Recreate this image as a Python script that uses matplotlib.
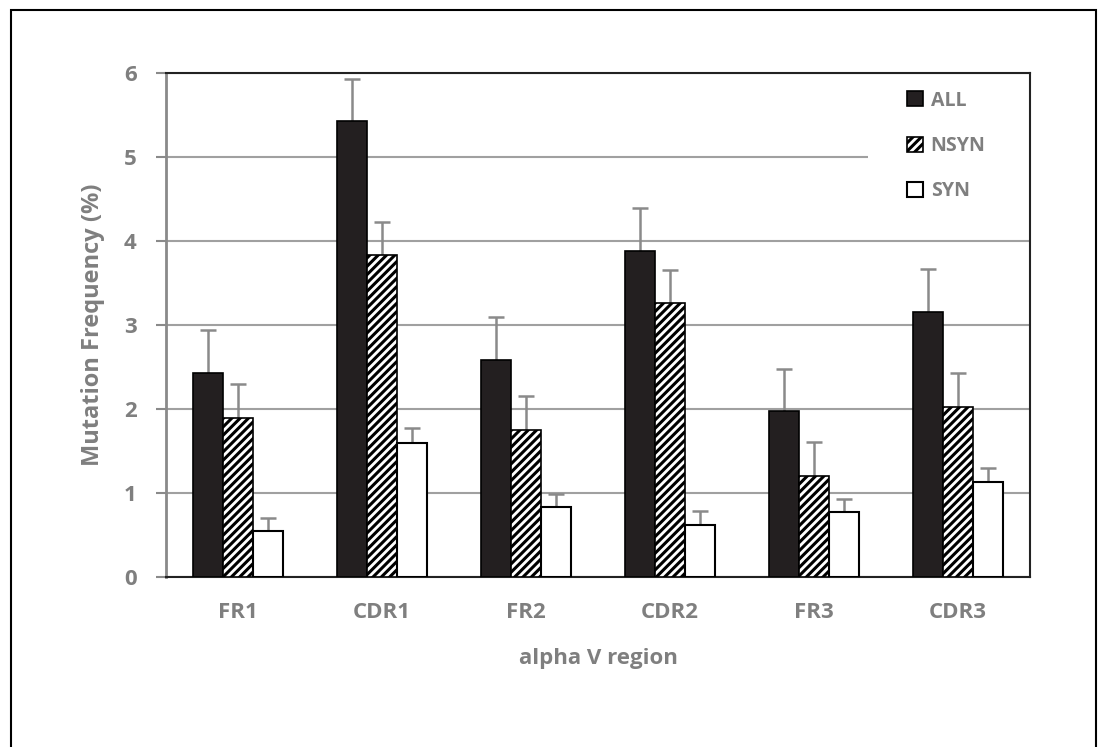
import numpy as np
import matplotlib
matplotlib.use('Agg')
import matplotlib.pyplot as plt
from matplotlib.patches import Rectangle

# Valores
regioes = ['FR1', 'CDR1', 'FR2', 'CDR2', 'FR3', 'CDR3']
all_vals = [2.43, 5.43, 2.58, 3.88, 1.98, 3.16]
all_err = [0.51, 0.50, 0.51, 0.51, 0.50, 0.51]
nsyn_vals = [1.89, 3.83, 1.75, 3.26, 1.20, 2.02]
nsyn_err = [0.41, 0.40, 0.41, 0.40, 0.41, 0.41]
syn_vals = [0.55, 1.60, 0.83, 0.62, 0.77, 1.13]
syn_err = [0.15, 0.17, 0.16, 0.17, 0.16, 0.17]

plt.rcParams['font.family'] = ['Open Sans', 'DejaVu Sans']
plt.rcParams['font.weight'] = 'bold'
plt.rcParams['axes.labelweight'] = 'bold'
plt.rcParams['hatch.linewidth'] = 2.2
plt.rcParams['hatch.color'] = 'black'

cinza = '#7f7f7f'
cinza_erro = '#8a8a8a'

fig = plt.figure(figsize=(10.99, 7.47), dpi=100)
ax = fig.add_axes([166 / 1099, 1 - 577 / 747, 864 / 1099, 504 / 747])

x = np.arange(len(regioes))
w = 0.21

series = [
    (x - w, all_vals, all_err, dict(color='#231f20', edgecolor='black', linewidth=1.2), 'ALL'),
    (x, nsyn_vals, nsyn_err, dict(color='white', edgecolor='black', linewidth=1.2, hatch='////'), 'NSYN'),
    (x + w, syn_vals, syn_err, dict(color='white', edgecolor='black', linewidth=1.5), 'SYN'),
]
for pos, vals, err, estilo, nome in series:
    vals = np.array(vals)
    err = np.array(err)
    ax.bar(pos, vals, w, label=nome, zorder=3, **estilo)
    # barra de erro só para cima, com traço no topo
    ax.vlines(pos, vals, vals + err, color=cinza_erro, linewidth=1.8, zorder=2.5)
    ax.plot(pos, vals + err, linestyle='none', marker='_', markersize=11,
            markeredgewidth=1.8, color=cinza_erro, zorder=2.5)

ax.set_xlim(-0.5, 5.5)
ax.set_ylim(0, 6)
ax.set_yticks(range(7))
ax.grid(axis='y', color='#a0a0a0', linewidth=1.5, zorder=0)
ax.set_axisbelow(True)

ax.set_xticks(x)
ax.set_xticklabels(regioes)
ax.tick_params(axis='x', length=0, pad=18, labelsize=16, labelcolor=cinza)
ax.tick_params(axis='y', length=7, width=1.5, color=cinza_erro, pad=14, labelsize=16, labelcolor=cinza)

for s in ['top', 'right', 'bottom']:
    ax.spines[s].set_color('#222222')
    ax.spines[s].set_linewidth(1.5)
ax.spines['left'].set_color(cinza_erro)
ax.spines['left'].set_linewidth(2)

ax.set_ylabel('Mutation Frequency (%)', fontsize=17, color=cinza, labelpad=14)
ax.set_xlabel('alpha V region', fontsize=16, color=cinza, labelpad=18)

# fundo branco da legenda sobre as linhas de grade
ax.add_patch(Rectangle((0.8125, 0.78), 0.1875, 0.215, transform=ax.transAxes,
                       facecolor='white', edgecolor='none', zorder=1))

leg = ax.legend(loc='upper left', bbox_to_anchor=(0.858, 0.965), frameon=False, fontsize=14,
                labelspacing=1.3, handlelength=0.8, handleheight=0.8, handletextpad=0.4,
                borderaxespad=0, borderpad=0)
for t in leg.get_texts():
    t.set_color(cinza)

# moldura externa
fig.patches.append(Rectangle((11 / 1099, -0.05), 1085 / 1099, 1.05 - 10 / 747,
                             transform=fig.transFigure, fill=False,
                             edgecolor='black', linewidth=1.5))

fig.savefig('out.png', dpi=100)
